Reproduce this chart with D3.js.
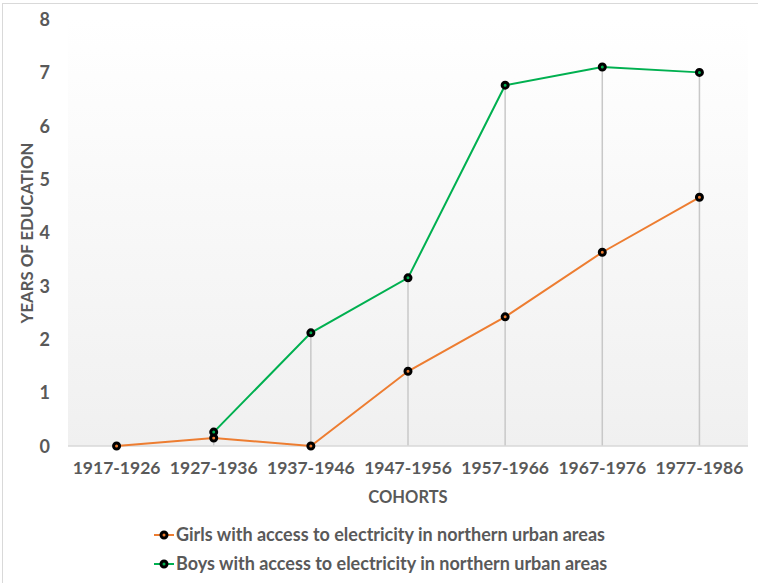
<!DOCTYPE html>
<html>
<head>
<meta charset="utf-8">
<script src="https://cdn.jsdelivr.net/npm/d3@7"></script>
<style>
  body { margin: 0; background: #fff; }
  text { font-family: Lato, "Open Sans", sans-serif; font-weight: bold; fill: #595959; }
</style>
</head>
<body>
<svg id="chart" width="758" height="583"></svg>
<script>
const cohorts = ["1917-1926", "1927-1936", "1937-1946", "1947-1956", "1957-1966", "1967-1976", "1977-1986"];
const girls = [0, 0.15, 0, 1.4, 2.42, 3.63, 4.66];
const boys = [null, 0.26, 2.12, 3.15, 6.76, 7.1, 7.0];
const yTicks = [0, 1, 2, 3, 4, 5, 6, 7, 8];

const series = [
    { name: "Girls with access to electricity in northern urban areas", values: girls, color: "#ED7D31" },
    { name: "Boys with access to electricity in northern urban areas", values: boys, color: "#00B050" }
];

const svg = d3.select("#chart");
const margin = { left: 68, right: 10, top: 19, bottom: 137 };
const W = 758, H = 583;

// chart frame
svg.append("rect")
    .attr("x", 2.5).attr("y", 3.5)
    .attr("width", W).attr("height", H)
    .attr("fill", "#fff").attr("stroke", "#d9d9d9");

const x = d3.scaleBand().domain(cohorts).range([margin.left, W - margin.right]);
const y = d3.scaleLinear().domain([0, 8]).range([H - margin.bottom, margin.top]);

// plot background gradient
const defs = svg.append("defs");
const grad = defs.append("linearGradient").attr("id", "plotBg")
    .attr("x1", 0).attr("y1", 0).attr("x2", 0).attr("y2", 1);
grad.append("stop").attr("offset", "0%").attr("stop-color", "#ffffff");
grad.append("stop").attr("offset", "100%").attr("stop-color", "#f0f0f0");

svg.append("rect")
    .attr("x", margin.left).attr("y", y(8))
    .attr("width", x.range()[1] - margin.left).attr("height", y(0) - y(8))
    .attr("fill", "url(#plotBg)");

const cx = d => x(d) + x.bandwidth() / 2;

// drop lines from the highest point of each category
svg.append("g").selectAll("line")
    .data(cohorts)
    .join("line")
    .attr("x1", cx).attr("x2", cx)
    .attr("y1", (d, i) => y(d3.max(series, s => s.values[i])))
    .attr("y2", y(0))
    .attr("stroke", "#c8c8c8").attr("stroke-width", 1.5);

// x axis line
svg.append("line")
    .attr("x1", margin.left).attr("x2", x.range()[1])
    .attr("y1", y(0)).attr("y2", y(0))
    .attr("stroke", "#d9d9d9").attr("stroke-width", 1.5);

// y tick labels
const yAxis = svg.append("g")
    .attr("transform", `translate(${margin.left - 18},0)`)
    .call(d3.axisLeft(y).tickValues(yTicks).tickSize(0).tickPadding(0));
yAxis.select(".domain").remove();
yAxis.selectAll("text").attr("font-size", 18).style("font-family", null).attr("dy", "0.35em");

// x tick labels
const xAxis = svg.append("g")
    .attr("transform", `translate(0,${y(0)})`)
    .call(d3.axisBottom(x).tickSize(0).tickPadding(16));
xAxis.select(".domain").remove();
xAxis.selectAll("text").attr("font-size", 17.5);

// axis titles
svg.append("text")
    .attr("x", 408).attr("y", 503)
    .attr("text-anchor", "middle").attr("font-size", 16.5)
    .text("COHORTS");
svg.append("text")
    .attr("transform", "translate(33,233) rotate(-90)")
    .attr("text-anchor", "middle").attr("font-size", 16.8)
    .text("YEARS OF EDUCATION");

// series lines and markers
const line = d3.line()
    .defined(d => d.v != null)
    .x(d => cx(d.c))
    .y(d => y(d.v));

series.forEach(s => {
    const pts = cohorts.map((c, i) => ({ c, v: s.values[i] }));
    svg.append("path")
        .datum(pts)
        .attr("d", line)
        .attr("fill", "none")
        .attr("stroke", s.color).attr("stroke-width", 2);
    svg.append("g").selectAll("circle")
        .data(pts.filter(p => p.v != null))
        .join("circle")
        .attr("cx", p => cx(p.c)).attr("cy", p => y(p.v))
        .attr("r", 3)
        .attr("fill", s.color)
        .attr("stroke", "#000").attr("stroke-width", 3);
});

// legend
const legend = svg.append("g").selectAll("g")
    .data(series)
    .join("g")
    .attr("transform", (d, i) => `translate(154,${535 + i * 29})`);
legend.append("line")
    .attr("x1", 0).attr("x2", 20)
    .attr("stroke", d => d.color).attr("stroke-width", 2);
legend.append("circle")
    .attr("cx", 10).attr("r", 3)
    .attr("fill", d => d.color)
    .attr("stroke", "#000").attr("stroke-width", 3);
legend.append("text")
    .attr("x", 22).attr("dy", "0.35em")
    .attr("font-size", 18)
    .text(d => d.name);
</script>
</body>
</html>
